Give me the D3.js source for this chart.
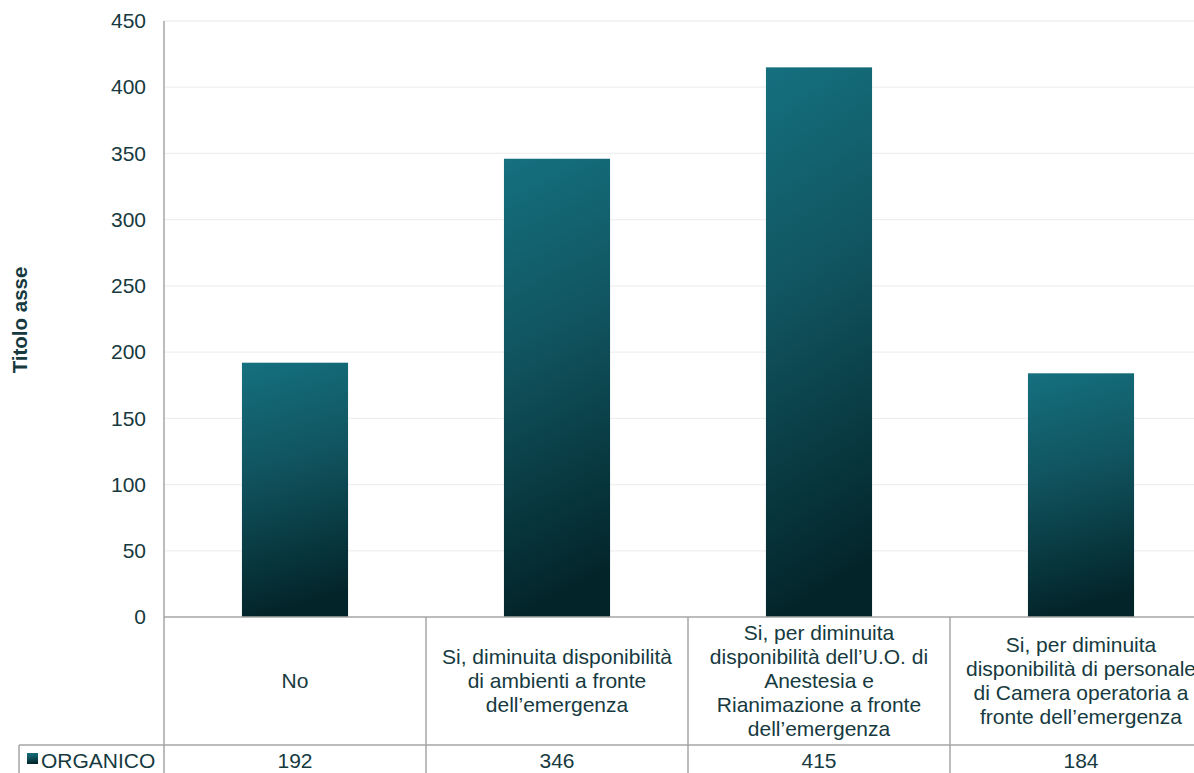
<!DOCTYPE html>
<html>
<head>
<meta charset="utf-8">
<script src="https://cdn.jsdelivr.net/npm/d3@7"></script>
<style>
  html, body { margin: 0; padding: 0; background: #fff; }
  svg { display: block; font-family: "Liberation Sans", Arial, sans-serif; }
</style>
</head>
<body>
<svg id="chart" width="1194" height="773"></svg>
<script>
const categories = [
  ["No"],
  ["Si, diminuita disponibilità", "di ambienti a fronte", "dell’emergenza"],
  ["Si, per diminuita", "disponibilità dell’U.O. di", "Anestesia e", "Rianimazione a fronte", "dell’emergenza"],
  ["Si, per diminuita", "disponibilità di personale", "di Camera operatoria a", "fronte dell’emergenza"]
];
const values = [192, 346, 415, 184];
const seriesName = "ORGANICO";
const yTicks = [0, 50, 100, 150, 200, 250, 300, 350, 400, 450];
const axisTitle = "Titolo asse";

const W = 1194, H = 773;
const plotLeft = 164, colW = 262;
const plotTop = 21, base = 617;
const catRowBottom = 745;
const textColor = "#163a40";
const lineColor = "#a6a6a6";
const fs = "21px";

const svg = d3.select("#chart");

const defs = svg.append("defs");
const grad = defs.append("linearGradient").attr("id", "barGrad")
  .attr("x1", 0).attr("y1", 0).attr("x2", 0.12).attr("y2", 1);
grad.append("stop").attr("offset", "0%").attr("stop-color", "#15707f");
grad.append("stop").attr("offset", "45%").attr("stop-color", "#10535e");
grad.append("stop").attr("offset", "100%").attr("stop-color", "#03252a");

const x = d3.scaleBand().domain(d3.range(categories.length))
  .range([plotLeft, plotLeft + colW * categories.length]).paddingInner(0).paddingOuter(0);
const y = d3.scaleLinear().domain([0, 450]).range([base, plotTop]);

// gridlines
svg.append("g").selectAll("line").data(yTicks.filter(d => d > 0)).join("line")
  .attr("x1", plotLeft).attr("x2", W)
  .attr("y1", d => y(d)).attr("y2", d => y(d))
  .attr("stroke", "#efefef").attr("stroke-width", 1.3);

// bars
const barW = x.bandwidth() * 0.405;
svg.append("g").selectAll("rect").data(values).join("rect")
  .attr("x", (d, i) => x(i) + (x.bandwidth() - barW) / 2)
  .attr("width", barW)
  .attr("y", d => y(d))
  .attr("height", d => base - y(d))
  .attr("fill", "url(#barGrad)");

// y axis
const yAxis = d3.axisLeft(y).tickValues(yTicks).tickSize(0).tickPadding(18);
const ga = svg.append("g").attr("transform", `translate(${plotLeft},0)`).call(yAxis);
ga.select(".domain").remove();
ga.selectAll("text").attr("fill", textColor).style("font-size", fs)
  .attr("font-family", "Liberation Sans, Arial, sans-serif");

// axis / table lines
const lines = svg.append("g").attr("stroke", lineColor).attr("stroke-width", 1.5);
lines.append("line").attr("x1", plotLeft).attr("x2", plotLeft).attr("y1", plotTop).attr("y2", H);
lines.append("line").attr("x1", plotLeft).attr("x2", W).attr("y1", base).attr("y2", base);
lines.append("line").attr("x1", 19).attr("x2", W).attr("y1", catRowBottom).attr("y2", catRowBottom);
lines.append("line").attr("x1", 19).attr("x2", 19).attr("y1", catRowBottom).attr("y2", H);
lines.selectAll(".sep").data(d3.range(1, categories.length)).join("line")
  .attr("class", "sep")
  .attr("x1", i => x(i)).attr("x2", i => x(i))
  .attr("y1", base).attr("y2", H);

// category labels
const lh = 24;
const midY = (base + catRowBottom) / 2;
const cat = svg.append("g").selectAll("text").data(categories).join("text")
  .attr("text-anchor", "middle").attr("fill", textColor).style("font-size", fs)
  .attr("x", (d, i) => x(i) + x.bandwidth() / 2)
  .attr("y", d => midY - (d.length - 1) * lh / 2 + 7);
cat.selectAll("tspan").data(d => d).join("tspan")
  .attr("x", function() { return this.parentNode.getAttribute("x"); })
  .attr("dy", (d, i) => i === 0 ? 0 : lh)
  .text(d => d);

// values row
svg.append("g").selectAll("text").data(values).join("text")
  .attr("text-anchor", "middle").attr("fill", textColor).style("font-size", fs)
  .attr("x", (d, i) => x(i) + x.bandwidth() / 2)
  .attr("y", 768)
  .text(d => d);

// legend key
svg.append("rect").attr("x", 27).attr("y", 753).attr("width", 11).attr("height", 11)
  .attr("fill", "url(#barGrad)");
svg.append("text").attr("x", 41).attr("y", 768).attr("fill", textColor)
  .style("font-size", fs).text(seriesName);

// axis title
svg.append("text")
  .attr("transform", `translate(27,${(plotTop + base) / 2 + 1}) rotate(-90)`)
  .attr("text-anchor", "middle").attr("fill", textColor)
  .style("font-size", "20.5px").style("font-weight", "bold")
  .text(axisTitle);
</script>
</body>
</html>
